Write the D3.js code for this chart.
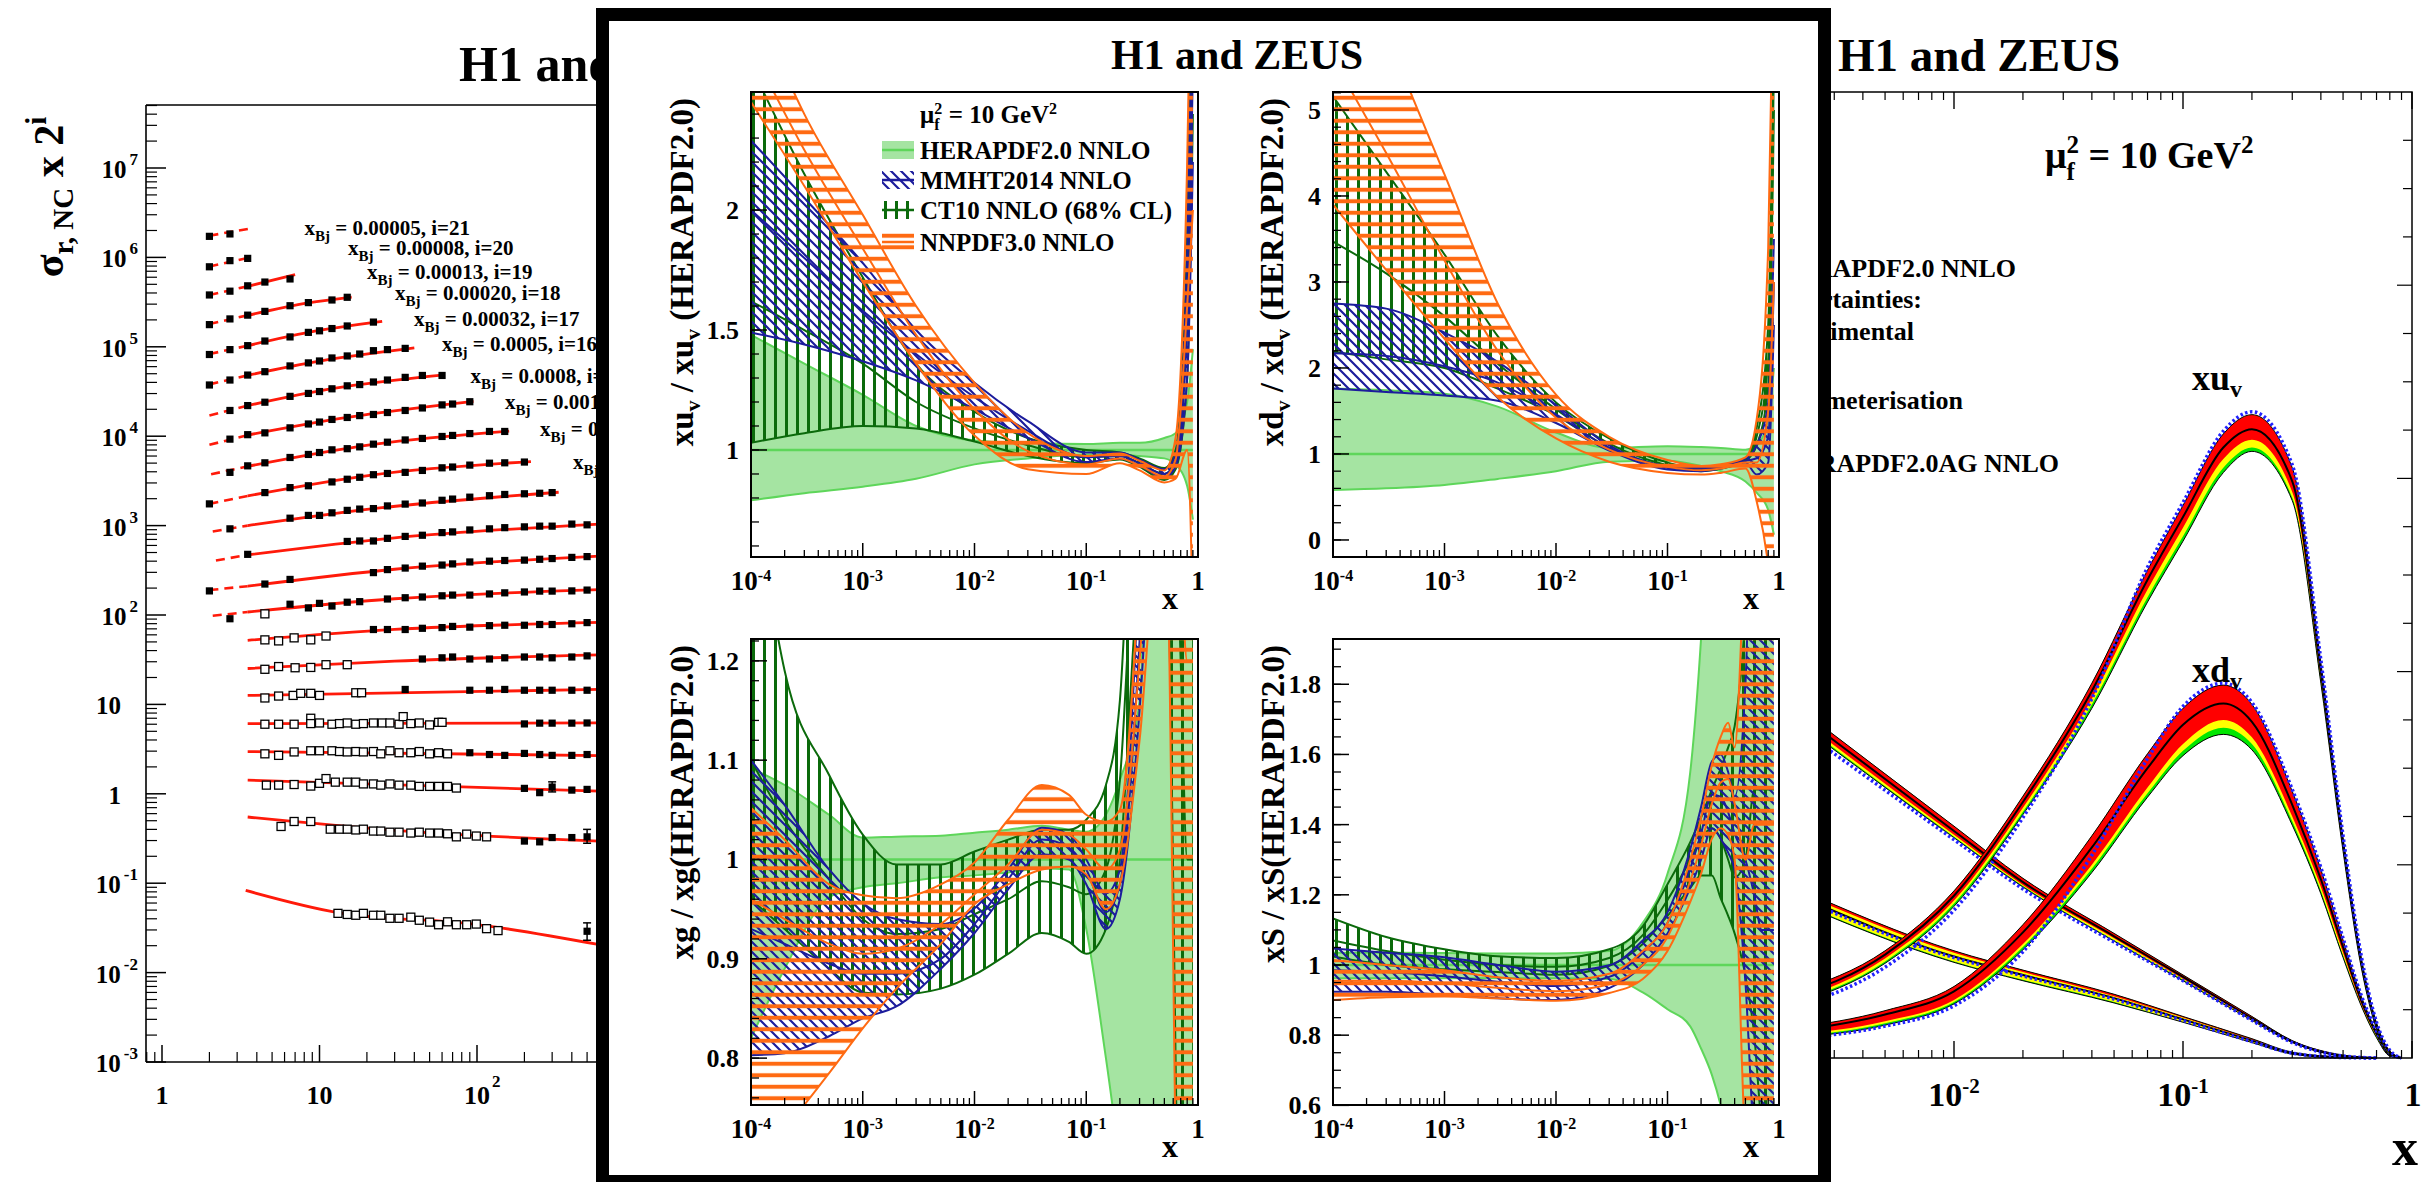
<!DOCTYPE html>
<html>
<head>
<meta charset="utf-8">
<script src="https://cdn.jsdelivr.net/npm/d3@7"></script>
<style>
  body { margin: 0; background: #fff; }
  svg text { font-family: "Liberation Serif", "Times New Roman", serif; font-weight: bold; fill: #000; }
</style>
</head>
<body>
<svg id="chart" width="2434" height="1182"></svg>
<script>
// ---------------- data: left panel (reduced cross sections, sigma x 2^i) ----------------
var binIdx = [21,20,19,18,17,16,15,14,13,12,11,10,9,8,7,6,5,4,3,2,1,0];
var binXbj = ["0.00005","0.00008","0.00013","0.00020","0.00032","0.0005","0.0008","0.0013","0.0020","0.0032",
              "0.005","0.008","0.013","0.020","0.032","0.05","0.08","0.13","0.18","0.25","0.40","0.65"];

// filled squares [Q2, sigma*2^i]
var sigFilled = [
  [[2,1.72e6],[2.7,1.83e6]],
  [[2,7.85e5],[2.7,9.2e5],[3.5,9.75e5]],
  [[2,3.8e5],[2.7,4.19e5],[3.5,4.81e5],[4.5,5.3e5],[6.5,5.74e5]],
  [[2,1.77e5],[2.7,2.05e5],[3.5,2.26e5],[4.5,2.49e5],[6.5,2.88e5],[8.5,3.12e5],[12,3.34e5],[15,3.58e5]],
  [[2,8.2e4],[2.7,9.3e4],[3.5,1.03e5],[4.5,1.16e5],[6.5,1.29e5],[8.5,1.45e5],[10,1.51e5],[12,1.6e5],[15,1.71e5],[22,1.89e5]],
  [[2,3.74e4],[2.7,4.25e4],[3.5,4.83e4],[4.5,5.27e4],[6.5,6.11e4],[8.5,6.61e4],[10,6.94e4],[12,7.5e4],[15,7.9e4],[18,8.3e4],[22,9.05e4],[27,9.3e4],[35,9.6e4]],
  [[2.7,1.94e4],[3.5,2.2e4],[4.5,2.4e4],[6.5,2.79e4],[8.5,3.01e4],[10,3.16e4],[12,3.39e4],[15,3.66e4],[18,3.78e4],[22,4.04e4],[27,4.25e4],[35,4.55e4],[45,4.78e4],[60,4.78e4]],
  [[2.7,9.27e3],[3.5,1.04e4],[4.5,1.09e4],[6.5,1.24e4],[8.5,1.37e4],[10,1.44e4],[12,1.54e4],[15,1.62e4],[18,1.7e4],[22,1.75e4],[27,1.84e4],[35,1.94e4],[45,2.07e4],[60,2.24e4],[70,2.29e4],[90,2.43e4]],
  [[2.7,3.94e3],[3.5,4.66e3],[4.5,5.04e3],[6.5,5.78e3],[8.5,6.25e3],[10,6.57e3],[12,7.04e3],[15,7.25e3],[18,7.6e3],[22,8.15e3],[27,8.57e3],[35,9.08e3],[45,9.44e3],[60,9.93e3],[70,1.02e4],[90,1.07e4],[120,1.13e4],[150,1.13e4]],
  [[2,1.75e3],[4.5,2.34e3],[6.5,2.66e3],[8.5,2.79e3],[12,3.08e3],[15,3.3e3],[18,3.47e3],[22,3.71e3],[27,3.83e3],[35,3.94e3],[45,4.14e3],[60,4.43e3],[70,4.52e3],[90,4.75e3],[120,4.99e3],[150,5.04e3],[200,5.14e3]],
  [[2.7,920],[6.5,1210],[8.5,1300],[10,1300],[12,1390],[15,1480],[18,1530],[22,1550],[27,1660],[35,1740],[45,1790],[60,1920],[70,1980],[90,2080],[120,2160],[150,2230],[200,2270],[250,2300],[300,2340]],
  [[3.5,477],[15,665],[18,673],[22,673],[27,720],[35,757],[45,780],[60,835],[70,850],[90,894],[120,920],[150,948],[200,968],[250,986],[300,986],[400,1040],[500,1020]],
  [[2,186],[4.5,222],[6.5,250],[22,298],[27,322],[35,335],[45,352],[60,362],[70,373],[90,392],[120,400],[150,407],[200,411],[250,420],[300,428],[400,441],[500,450]],
  [[2.7,90.8],[6.5,132],[8.5,120],[10,135],[12,126],[15,139],[18,141],[27,151],[35,156],[45,159],[60,164],[70,167],[90,167],[120,172],[150,177],[200,181],[250,185],[300,185],[400,186],[500,190]],
  [[22,68.8],[27,68.8],[35,68.8],[45,71],[60,72.3],[70,74.5],[90,73.1],[120,76],[150,76.8],[200,76.8],[250,78.3],[300,78.3],[400,79.8],[500,82.2]],
  [[45,32.2],[60,33.2],[70,33.9],[90,32.2],[120,32.2],[150,33.2],[200,33.9],[250,33.9],[300,33.2],[400,33.9],[500,34.9]],
  [[35,14.7],[90,14.4],[120,14.4],[150,14.7],[200,14.4],[250,14.4],[300,14.4],[400,14.4],[500,14.4]],
  [[200,6.05],[250,6.17],[300,6.17],[400,6.17],[500,6.2]],
  [[90,2.88],[120,2.75],[150,2.69],[200,2.83],[250,2.75],[300,2.69],[400,2.69],[500,2.75]],
  [[200,1.15],[250,1.03],[300,1.19],[400,1.10],[500,1.12]],
  [[200,0.296],[250,0.29],[300,0.324],[400,0.324],[500,0.33]],
  [[500,0.029]]
];

// open squares [Q2, sigma*2^i]
var sigOpen = [
  [],[],[],[],[],[],[],[],[],[],[],[],[],
  [[4.5,103]],
  [[4.5,52.7],[5.5,51.3],[6.9,55.5],[8.8,52.7],[11,58.2]],
  [[4.5,24.7],[5.5,26.5],[7,25.7],[8.8,25.9],[11,27.8],[15,27.8]],
  [[4.5,11.8],[5.5,12.4],[6.8,12.6],[7.6,13.3],[8.8,13.3],[10,12.6],[17,13.5],[18.5,13.5]],
  [[4.5,6.0],[5.5,6.0],[6.9,6.0],[8.8,7.0],[8.8,6.1],[10,6.2],[12,6.0],[13.4,6.1],[15,6.2],[17,6.0],[19,6.1],[22,6.2],[25,6.2],[28,6.2],[32,6.0],[34,7.3],[38,6.1],[43,6.2],[50,5.9],[57,6.3],[60,6.3]],
  [[4.5,2.80],[5.5,2.69],[6.9,2.94],[8.8,3.03],[10,3.03],[12,3.03],[13.4,2.97],[15,2.94],[17,2.97],[19,2.94],[22,2.97],[24.5,2.8],[28,3.03],[32,2.88],[38,2.88],[43,2.97],[50,2.8],[57,2.88],[65,2.8]],
  [[4.6,1.25],[5.5,1.25],[6.9,1.27],[8.8,1.22],[10,1.31],[11,1.48],[12.6,1.35],[15,1.35],[17,1.35],[19,1.29],[22,1.29],[24.5,1.25],[28,1.29],[32,1.25],[38,1.25],[43,1.21],[50,1.21],[57,1.21],[65,1.21],[74,1.16]],
  [[5.7,0.431],[6.9,0.49],[8.8,0.49],[11.7,0.402],[13.4,0.402],[15,0.402],[17,0.394],[19,0.402],[22,0.383],[24.5,0.383],[28,0.372],[32,0.372],[38,0.364],[43,0.372],[50,0.364],[57,0.364],[65,0.357],[74,0.33],[86,0.354],[99,0.337],[115,0.33]],
  [[13.1,0.046],[15,0.0447],[17,0.0438],[19,0.046],[22,0.0438],[24.5,0.0438],[28,0.0405],[32,0.0405],[38,0.0417],[43,0.0385],[50,0.0367],[57,0.0343],[65,0.037],[74,0.0343],[86,0.0343],[99,0.0349],[115,0.031],[136,0.0295]]
];

// error bars [row, Q2, low, high]
var sigErr = [[19,300,1.05,1.36],[20,500,0.28,0.40],[21,500,0.023,0.036]];

// fit curves: below Q2min (dashed) and above (solid)
var fitDashed = [
  [[2,1.75e6],[3.6,2.1e6]],
  [[2,7.9e5],[3.6,1.0e6]],
  [[2,3.8e5],[3.5,4.75e5]],
  [[2,1.8e5],[3.5,2.25e5]],
  [[2,8.3e4],[3.5,1.03e5]],
  [[2,3.8e4],[3.5,4.8e4]],
  [[2,1.7e4],[3.5,2.2e4]],
  [[2,8.0e3],[3.5,1.03e4]],
  [[2.05,3.75e3],[3.5,4.6e3]],
  [[2,1.75e3],[3.5,2.15e3]],
  [[2.1,860],[3.5,1000]],
  [[2.2,407],[3.5,470]],
  [[2,190],[3.5,210]],
  [[2.1,98],[3.5,108]],
  [],[],[],[],[],[],[],[]
];
var fitSolid = [
  [],[],
  [[3.5,4.75e5],[7,6.4e5]],
  [[3.5,2.25e5],[8.5,3.1e5],[16,3.6e5]],
  [[3.5,1.03e5],[8.5,1.45e5],[25,1.92e5]],
  [[3.5,4.8e4],[10,6.9e4],[40,9.7e4]],
  [[3.5,2.2e4],[12,3.4e4],[62,4.85e4]],
  [[3.5,1.03e4],[15,1.62e4],[95,2.45e4]],
  [[3.5,4.6e3],[22,8.1e3],[160,1.14e4]],
  [[3.5,2.15e3],[22,3.7e3],[220,5.2e3]],
  [[3.5,1000],[22,1550],[330,2360]],
  [[3.5,470],[30,730],[600,1040]],
  [[3.5,210],[30,325],[600,455]],
  [[3.5,108],[30,152],[600,192]],
  [[3.5,52],[30,69],[600,82.5]],
  [[3.5,25.2],[30,30.5],[600,35.8]],
  [[3.5,12.6],[600,14.7]],
  [[3.5,6.1],[600,6.2]],
  [[3.5,2.97],[600,2.68]],
  [[3.5,1.42],[600,1.07]],
  [[3.5,0.55],[30,0.39],[600,0.295]],
  [[3.4,0.083],[13,0.047],[100,0.0345],[600,0.0205]]
];

// ---------------- data: middle panel (ratios to HERAPDF2.0) ----------------
var gridA = [0.0001,0.0003,0.001,0.003,0.01,0.03,0.1,0.2,0.3,0.5,0.63,0.8,0.9];
var gridG = [0.0001,0.0002,0.0005,0.001,0.002,0.005,0.01,0.02,0.04,0.07,0.1,0.15,0.2,0.3,0.5,0.7,0.8,0.9];
var gridS = [0.0001,0.0003,0.001,0.003,0.01,0.03,0.06,0.1,0.16,0.2,0.25,0.3,0.35,0.4,0.5,0.6,0.7,0.8,0.9];

var uvHeraLo  = [0.79,0.82,0.847,0.88,0.94,0.965,0.98,0.98,0.975,0.965,0.94,0.85,0.71];
var uvHeraHi  = [1.48,1.36,1.23,1.10,1.04,1.03,1.025,1.03,1.03,1.05,1.07,1.2,1.42];
var uvMmhtLo  = [1.49,1.44,1.37,1.29,1.17,1.05,0.95,0.965,0.935,0.885,0.93,1.3,2.2];
var uvMmhtHi  = [2.29,2.05,1.78,1.50,1.28,1.12,0.99,0.99,0.96,0.92,0.98,1.8,3.0];
var uvMmhtCen = [2.0,1.8,1.58,1.40,1.22,1.08,0.97,0.975,0.945,0.9,0.95,1.5,2.6];
var uvCt10Lo  = [1.03,1.07,1.10,1.09,1.035,0.975,0.945,0.96,0.93,0.875,0.92,1.3,2.4];
var uvCt10Hi  = [2.6,2.15,1.72,1.36,1.16,1.05,1.0,0.99,0.965,0.925,1.0,1.9,3.2];
var uvCt10Cen = [1.62,1.5,1.36,1.2,1.09,1.02,0.97,0.975,0.945,0.9,0.96,1.6,2.8];
var uvNnpdfLo = [2.45,2.1,1.7,1.36,1.06,0.92,0.9,0.945,0.915,0.865,0.88,1.0,0.3];
var uvNnpdfHi = [2.9,2.4,1.98,1.6,1.28,1.07,0.975,0.985,0.955,0.915,1.05,2.2,3.5];
var uvNnpdfCen= [2.68,2.25,1.84,1.48,1.17,0.995,0.94,0.965,0.935,0.89,0.96,1.6,2.0];

var dvHeraLo  = [0.58,0.6,0.64,0.71,0.80,0.91,0.92,0.86,0.8,0.68,0.55,0.35,0.06];
var dvHeraHi  = [1.76,1.74,1.70,1.55,1.25,1.07,1.09,1.08,1.07,1.05,1.1,1.4,2.0];
var dvMmhtLo  = [1.76,1.72,1.68,1.62,1.36,1.04,0.82,0.8,0.83,0.9,0.76,0.9,2.5];
var dvMmhtHi  = [2.75,2.69,2.41,2.07,1.57,1.10,0.86,0.84,0.87,0.95,1.1,1.6,3.5];
var dvMmhtCen = [2.17,2.14,2.02,1.83,1.46,1.07,0.84,0.82,0.85,0.92,0.95,1.2,3.0];
var dvCt10Lo  = [2.19,2.1,2.0,1.76,1.45,1.07,0.85,0.8,0.83,0.92,1.1,1.8,5];
var dvCt10Hi  = [5.16,4.28,3.32,2.37,1.6,1.18,0.9,0.83,0.86,0.95,1.3,2.5,6];
var dvCt10Cen = [3.47,3.1,2.6,2.05,1.52,1.12,0.87,0.815,0.845,0.935,1.2,2.1,5.5];
var dvNnpdfLo = [3.9,3.14,2.34,1.66,1.18,0.91,0.78,0.76,0.78,0.83,0.45,-0.3,-1];
var dvNnpdfHi = [7.5,5.9,4.25,2.75,1.69,1.2,0.93,0.86,0.88,0.96,1.4,3.4,7];
var dvNnpdfCen= [5.6,4.5,3.25,2.2,1.42,1.05,0.85,0.81,0.83,0.9,0.9,1.5,3];

var gHeraLo  = [0.82,0.89,0.962,0.972,0.976,0.982,0.984,0.987,0.991,0.99,0.93,0.8,0.7,0.6,0.5,0.5,0.5,0.5];
var gHeraHi  = [1.092,1.075,1.045,1.022,1.023,1.024,1.027,1.03,1.034,1.03,1.028,1.045,1.08,1.16,2.0,2.0,2.0,2.0];
var gMmhtLo  = [0.803,0.805,0.822,0.84,0.852,0.89,0.926,0.97,1.005,1.0,0.975,0.93,0.96,1.15,1.6,1.8,1.8,1.8];
var gMmhtHi  = [1.1,1.055,0.99,0.956,0.94,0.935,0.951,0.99,1.032,1.025,1.0,0.966,0.99,1.3,2.0,2.0,2.0,2.0];
var gMmhtCen = [0.93,0.915,0.895,0.885,0.885,0.9,0.935,0.98,1.02,1.012,0.99,0.947,0.975,1.22,1.8,1.9,1.9,1.9];
var gCt10Lo  = [0.96,0.93,0.89,0.866,0.864,0.87,0.884,0.905,0.926,0.917,0.905,0.93,1.0,1.3,1.4,0.5,0.3,0.3];
var gCt10Hi  = [1.4,1.19,1.085,1.025,0.995,0.995,1.008,1.02,1.03,1.03,1.04,1.075,1.16,1.6,2,2,2,2];
var gCt10Cen = [1.1,1.04,0.98,0.94,0.925,0.93,0.945,0.96,0.978,0.972,0.965,0.99,1.08,1.45,1.7,1.2,1.0,1.0];
var gNnpdfLo = [0.7,0.73,0.785,0.83,0.87,0.915,0.955,0.975,0.99,0.993,0.985,0.95,0.975,1.12,1.4,0.4,0.3,0.3];
var gNnpdfHi = [1.052,1.02,0.975,0.964,0.961,0.975,0.997,1.04,1.075,1.065,1.045,1.038,1.05,1.3,2,2,2,2];
var gNnpdfCen= [0.96,0.94,0.915,0.905,0.91,0.935,0.965,0.995,1.03,1.025,1.01,0.99,1.01,1.2,1.6,1.3,1.2,1.2];

var sHeraLo  = [0.962,0.962,0.962,0.962,0.962,0.96,0.922,0.874,0.825,0.762,0.687,0.6,0.5,0.4,0.4,0.4,0.4,0.4,0.4];
var sHeraHi  = [1.035,1.035,1.034,1.033,1.033,1.04,1.12,1.26,1.55,1.93,2.5,2.5,2.5,2.5,2.5,2.5,2.5,2.5,2.5];
var sMmhtLo  = [0.924,0.924,0.915,0.905,0.9,0.934,1.0,1.09,1.22,1.3,1.39,1.36,1.32,1.27,0.95,0.5,0.4,0.4,0.4];
var sMmhtHi  = [1.047,1.035,1.022,1.0,0.981,0.999,1.07,1.15,1.33,1.45,1.58,1.6,1.55,1.48,1.8,2.5,2.5,2.5,2.5];
var sMmhtCen = [0.985,0.98,0.968,0.952,0.94,0.966,1.035,1.12,1.275,1.375,1.485,1.48,1.435,1.375,1.3,1.2,1.1,1.1,1.1];
var sCt10Lo  = [1.024,1.0,0.988,0.98,0.972,0.998,1.06,1.14,1.22,1.255,1.255,1.19,1.14,1.09,0.97,0.8,0.55,0.5,0.5];
var sCt10Hi  = [1.133,1.08,1.045,1.025,1.02,1.045,1.11,1.23,1.35,1.42,1.5,1.56,1.62,1.68,2.0,2.5,2.5,2.5,2.5];
var sCt10Cen = [1.07,1.04,1.015,1.0,0.995,1.02,1.085,1.185,1.3,1.36,1.39,1.36,1.3,1.25,1.3,1.5,1.5,1.5,1.5];
var sNnpdfLo = [0.9,0.908,0.91,0.905,0.898,0.92,0.96,1.04,1.18,1.26,1.36,1.39,1.37,1.3,0.5,0.4,0.4,0.4,0.4];
var sNnpdfHi = [1.014,1.0,0.985,0.965,0.955,0.975,1.04,1.12,1.3,1.42,1.57,1.65,1.69,1.62,2.2,2.5,2.5,2.5,2.5];
var sNnpdfCen= [0.955,0.955,0.948,0.935,0.925,0.945,1.0,1.08,1.24,1.34,1.46,1.52,1.53,1.46,1.3,1.4,1.4,1.4,1.4];

// ---------------- data: right panel (HERAPDF2.0 NNLO PDFs) ----------------
var pdfX  = [0.002,0.005,0.01,0.02,0.04,0.07,0.1,0.15,0.2,0.3,0.4,0.5,0.6,0.7,0.8,0.9];
var xuvCen = [0.063,0.107,0.168,0.265,0.38,0.495,0.56,0.632,0.651,0.597,0.40,0.222,0.10,0.034,0.006,0];
var xuvTop = [0.068,0.111,0.173,0.271,0.388,0.505,0.572,0.646,0.666,0.611,0.409,0.228,0.104,0.036,0.007,0];
var xuvRLo = [0.059,0.103,0.163,0.259,0.372,0.485,0.549,0.62,0.64,0.586,0.394,0.218,0.097,0.032,0.005,0];
var xuvYLo = [0.057,0.1,0.16,0.255,0.366,0.477,0.54,0.611,0.632,0.58,0.39,0.215,0.095,0.031,0.004,0];
var xuvGLo = [0.055,0.098,0.157,0.252,0.362,0.472,0.535,0.606,0.628,0.577,0.388,0.214,0.094,0.03,0.004,0];
var xuvAg  = [0.052,0.094,0.153,0.249,0.372,0.508,0.575,0.649,0.669,0.614,0.412,0.23,0.106,0.037,0.008,0];

var xdvCen = [0.028,0.045,0.069,0.13,0.218,0.30,0.345,0.367,0.348,0.262,0.185,0.115,0.06,0.025,0.003,0];
var xdvTop = [0.031,0.049,0.074,0.138,0.23,0.315,0.362,0.386,0.366,0.276,0.195,0.122,0.064,0.027,0.004,0];
var xdvRLo = [0.024,0.038,0.06,0.118,0.2,0.28,0.325,0.35,0.332,0.25,0.177,0.109,0.056,0.023,0.002,0];
var xdvYLo = [0.022,0.036,0.058,0.115,0.196,0.274,0.318,0.342,0.325,0.245,0.173,0.106,0.055,0.022,0.002,0];
var xdvGLo = [0.021,0.034,0.056,0.112,0.192,0.27,0.313,0.335,0.319,0.241,0.17,0.104,0.054,0.021,0.002,0];
var xdvAg  = [0.02,0.033,0.054,0.11,0.21,0.31,0.364,0.388,0.368,0.278,0.197,0.124,0.065,0.028,0.005,0];

var pdfX9 = [0.002,0.01,0.02,0.05,0.1,0.2,0.3,0.5,0.7];
var xgCen = [0.36,0.235,0.182,0.126,0.084,0.041,0.017,0.002,0];
var xgTop = [0.366,0.24,0.186,0.129,0.086,0.043,0.018,0.003,0];
var xgRLo = [0.355,0.231,0.179,0.124,0.082,0.04,0.016,0.002,0];
var xgYLo = [0.352,0.229,0.178,0.122,0.081,0.039,0.016,0.002,0];
var xgGLo = [0.35,0.228,0.177,0.121,0.08,0.039,0.016,0.002,0];
var xgAg  = [0.345,0.226,0.175,0.12,0.08,0.039,0.016,0.002,0];

var xsCen = [0.17,0.105,0.086,0.062,0.04,0.018,0.005,0.0005,0];
var xsTop = [0.177,0.111,0.091,0.066,0.043,0.02,0.006,0.001,0];
var xsRLo = [0.174,0.109,0.089,0.064,0.042,0.019,0.006,0.001,0];
var xsYLo = [0.163,0.1,0.081,0.058,0.037,0.016,0.004,0,0];
var xsGLo = [0.162,0.099,0.08,0.057,0.037,0.016,0.004,0,0];
var xsAg  = [0.168,0.104,0.085,0.061,0.039,0.017,0.005,0.0005,0];

var legendLines = ["HERAPDF2.0 NNLO","uncertainties:","experimental","parameterisation","HERAPDF2.0AG NNLO"];

// ---------------- colours ----------------
var redFit = "#ff1a0a";
var heraFill = "#a5e4a2", heraLine = "#5ed65a";
var mmhtC = "#1c1c9c", ct10C = "#0b6a0b", nnpdfC = "#ff6a12";

var svg = d3.select("#chart");
svg.append("rect").attr("width", 2434).attr("height", 1182).attr("fill", "#fff");
var defs = svg.append("defs");

// hatch patterns
var pm = defs.append("pattern").attr("id", "hMmht").attr("patternUnits", "userSpaceOnUse").attr("width", 10).attr("height", 10);
pm.append("path").attr("d", "M0,0 L10,10 M-1,9 L1,11 M9,-1 L11,1").attr("stroke", mmhtC).attr("stroke-width", 2.2);
var pc = defs.append("pattern").attr("id", "hCt10").attr("patternUnits", "userSpaceOnUse").attr("width", 11).attr("height", 10);
pc.append("line").attr("x1", 5.5).attr("x2", 5.5).attr("y1", 0).attr("y2", 10).attr("stroke", ct10C).attr("stroke-width", 3);
var pn = defs.append("pattern").attr("id", "hNnpdf").attr("patternUnits", "userSpaceOnUse").attr("width", 10).attr("height", 11.5);
pn.append("line").attr("x1", 0).attr("x2", 10).attr("y1", 5.75).attr("y2", 5.75).attr("stroke", nnpdfC).attr("stroke-width", 4);

function line(g, x1, y1, x2, y2, w, c) {
  return g.append("line").attr("x1", x1).attr("y1", y1).attr("x2", x2).attr("y2", y2)
    .attr("stroke", c || "#000").attr("stroke-width", w || 1.5);
}

// =================== LEFT PANEL ===================
var L = svg.append("g");
var xQ = d3.scaleLog().domain([1, 1000]).range([162, 634.5]);
var yS = d3.scaleLog().domain([1e-3, 1e7]).range([1062, 168]);
var lineQ = d3.line().x(function(d){ return xQ(d[0]); }).y(function(d){ return yS(d[1]); }).curve(d3.curveMonotoneX);

L.append("text").attr("x", 459).attr("y", 81).attr("font-size", 50).text("H1 and ZEUS");

fitDashed.forEach(function(seg){
  if (seg.length) L.append("path").attr("d", lineQ(seg)).attr("fill", "none").attr("stroke", redFit)
    .attr("stroke-width", 2.6).attr("stroke-dasharray", "9,6");
});
fitSolid.forEach(function(seg){
  if (seg.length) L.append("path").attr("d", lineQ(seg)).attr("fill", "none").attr("stroke", redFit).attr("stroke-width", 2.8);
});
sigErr.forEach(function(e){
  line(L, xQ(e[1]), yS(e[2]), xQ(e[1]), yS(e[3]), 1.5);
  line(L, xQ(e[1]) - 4, yS(e[2]), xQ(e[1]) + 4, yS(e[2]), 1.5);
  line(L, xQ(e[1]) - 4, yS(e[3]), xQ(e[1]) + 4, yS(e[3]), 1.5);
});
sigOpen.forEach(function(row){
  L.selectAll(null).data(row).enter().append("rect")
    .attr("x", function(d){ return xQ(d[0]) - 4; }).attr("y", function(d){ return yS(d[1]) - 4; })
    .attr("width", 8).attr("height", 8).attr("fill", "#fff").attr("stroke", "#000").attr("stroke-width", 1.3);
});
sigFilled.forEach(function(row){
  L.selectAll(null).data(row).enter().append("rect")
    .attr("x", function(d){ return xQ(d[0]) - 3.6; }).attr("y", function(d){ return yS(d[1]) - 3.6; })
    .attr("width", 7.2).attr("height", 7.2).attr("fill", "#000");
});

// bin labels (only the ones that stick out from under the middle panel)
var binLabelPos = [[304.5,235],[348,255],[367,279],[395,300],[414,326],[442,351],[470.5,383],[505,409],[540,436],[573,469]];
binLabelPos.forEach(function(p, k){
  var t = L.append("text").attr("x", p[0]).attr("y", p[1]).attr("font-size", 21);
  t.append("tspan").text("x");
  t.append("tspan").attr("font-size", 15).attr("dy", 6).text("Bj");
  t.append("tspan").attr("dy", -6).text(" = " + binXbj[k] + ", i=" + binIdx[k]);
});

// axes frame
line(L, 146, 105, 146, 1062, 1.6);
line(L, 146, 105, 700, 105, 1.6);
line(L, 146, 1062, 700, 1062, 1.6);
for (var k = -3; k <= 7; k++) {
  line(L, 146, yS(Math.pow(10, k)), 166, yS(Math.pow(10, k)), 1.5);
  for (var m = 2; m <= 9; m++) {
    var v = m * Math.pow(10, k);
    if (yS(v) > 105) line(L, 146, yS(v), 157, yS(v), 1.2);
  }
  var lab = L.append("text").attr("font-size", 25).attr("y", yS(Math.pow(10, k)) + 10);
  if (k === 0 || k === 1) {
    lab.attr("x", 121).attr("text-anchor", "end").text(k === 0 ? "1" : "10");
  } else {
    lab.attr("x", 138).attr("text-anchor", "end");
    lab.append("tspan").text("10");
    lab.append("tspan").attr("font-size", 17).attr("dy", -13).attr("dx", 3).text(k);
  }
}
[0.8, 0.9].forEach(function(v){ line(L, xQ(v), 1062, xQ(v), 1052, 1.2); });
for (var k = 0; k <= 2; k++) {
  line(L, xQ(Math.pow(10, k)), 1062, xQ(Math.pow(10, k)), 1045, 1.5);
  for (var m = 2; m <= 9; m++) line(L, xQ(m * Math.pow(10, k)), 1062, xQ(m * Math.pow(10, k)), 1052, 1.2);
}
L.append("text").attr("x", xQ(1)).attr("y", 1104).attr("font-size", 26).attr("text-anchor", "middle").text("1");
L.append("text").attr("x", xQ(10)).attr("y", 1104).attr("font-size", 26).attr("text-anchor", "middle").text("10");
L.append("text").attr("x", xQ(100)).attr("y", 1104).attr("font-size", 26).attr("text-anchor", "middle").text("10");
L.append("text").attr("x", xQ(100) + 15).attr("y", 1087).attr("font-size", 17).text("2");

var yt = L.append("text").attr("transform", "translate(63,197) rotate(-90)").attr("text-anchor", "middle").attr("font-size", 42);
yt.append("tspan").text("σ");
yt.append("tspan").attr("font-size", 29).attr("dy", 10).text("r, NC");
yt.append("tspan").attr("dy", -10).text(" x 2");
yt.append("tspan").attr("font-size", 29).attr("dy", -17).text("i");

// =================== RIGHT PANEL ===================
var R = svg.append("g");
var xR = d3.scaleLog().domain([1e-4, 1]).range([1496, 2412]);
var yR = d3.scaleLinear().domain([0, 1]).range([1058, 92]);

R.append("text").attr("x", 1838).attr("y", 71).attr("font-size", 47).text("H1 and ZEUS");

function pdfBand(xs, top, rLo, yLo, gLo, cen, ag) {
  var rows = xs.map(function(x, i){ return {x: x, top: top[i], r: rLo[i], y: yLo[i], g: gLo[i], c: cen[i], a: ag[i]}; });
  function ar(lo) {
    return d3.area().x(function(d){ return xR(d.x); }).y0(function(d){ return yR(d[lo]); })
      .y1(function(d){ return yR(d.top); }).curve(d3.curveMonotoneX)(rows);
  }
  function ln(key) {
    return d3.line().x(function(d){ return xR(d.x); }).y(function(d){ return yR(d[key]); }).curve(d3.curveMonotoneX)(rows);
  }
  R.append("path").attr("d", ar("g")).attr("fill", "#00e600");
  R.append("path").attr("d", ar("y")).attr("fill", "#ffff00");
  R.append("path").attr("d", ar("r")).attr("fill", "#ff0000");
  R.append("path").attr("d", ln("top")).attr("fill", "none").attr("stroke", "#000").attr("stroke-width", 1);
  R.append("path").attr("d", ln("g")).attr("fill", "none").attr("stroke", "#000").attr("stroke-width", 1);
  R.append("path").attr("d", ln("c")).attr("fill", "none").attr("stroke", "#000").attr("stroke-width", 2);
  R.append("path").attr("d", ln("a")).attr("fill", "none").attr("stroke", "#2222ff").attr("stroke-width", 3.5)
    .attr("stroke-dasharray", "2.5,2.5");
}
pdfBand(pdfX9, xsTop, xsRLo, xsYLo, xsGLo, xsCen, xsAg);
pdfBand(pdfX9, xgTop, xgRLo, xgYLo, xgGLo, xgCen, xgAg);
pdfBand(pdfX, xdvTop, xdvRLo, xdvYLo, xdvGLo, xdvCen, xdvAg);
pdfBand(pdfX, xuvTop, xuvRLo, xuvYLo, xuvGLo, xuvCen, xuvAg);

R.append("rect").attr("x", 1496).attr("y", 92).attr("width", 916).attr("height", 966)
  .attr("fill", "none").attr("stroke", "#000").attr("stroke-width", 1.5);
for (var k = -4; k <= 0; k++) {
  var xv = xR(Math.pow(10, k));
  line(R, xv, 1058, xv, 1041, 1.4); line(R, xv, 92, xv, 109, 1.4);
  if (k < 0) for (var m = 2; m <= 9; m++) {
    var xm = xR(m * Math.pow(10, k));
    line(R, xm, 1058, xm, 1050, 1.2); line(R, xm, 92, xm, 100, 1.2);
  }
}
for (var k = 1; k < 20; k++) {
  var yv = yR(k * 0.05);
  line(R, 2412, yv, 2412 - (k % 4 === 0 ? 15 : 9), yv, 1.2);
}
[-2, -1].forEach(function(e){
  var t = R.append("text").attr("x", xR(Math.pow(10, e))).attr("y", 1106).attr("font-size", 34).attr("text-anchor", "middle");
  t.append("tspan").text("10");
  t.append("tspan").attr("font-size", 21).attr("dy", -13).text(e);
});
R.append("text").attr("x", 2413).attr("y", 1106).attr("font-size", 34).attr("text-anchor", "middle").text("1");
R.append("text").attr("x", 2405).attr("y", 1165).attr("font-size", 52).attr("text-anchor", "middle").text("x");

var mu = R.append("text").attr("x", 2045).attr("y", 168).attr("font-size", 38);
mu.append("tspan").text("μ");
mu.append("tspan").attr("font-size", 25).attr("dy", -15).text("2");
mu.append("tspan").attr("font-size", 25).attr("dx", -12.5).attr("dy", 27).text("f");
mu.append("tspan").attr("dy", -12).attr("dx", 4).text(" = 10 GeV");
mu.append("tspan").attr("font-size", 25).attr("dy", -15).text("2");

var legEnd = [[2016,277],[1922,308],[1914,340],[1963,409],[2059,472]];
legendLines.forEach(function(s, i){
  R.append("text").attr("x", legEnd[i][0]).attr("y", legEnd[i][1]).attr("font-size", 26).attr("text-anchor", "end").text(s);
});
var lu = R.append("text").attr("x", 2192).attr("y", 390).attr("font-size", 36);
lu.append("tspan").text("xu"); lu.append("tspan").attr("font-size", 24).attr("dy", 7).text("v");
var ld = R.append("text").attr("x", 2192).attr("y", 682).attr("font-size", 36);
ld.append("tspan").text("xd"); ld.append("tspan").attr("font-size", 24).attr("dy", 7).text("v");

// =================== MIDDLE PANEL ===================
var M = svg.append("g");
M.append("rect").attr("x", 602.5).attr("y", 14.5).attr("width", 1222).attr("height", 1167)
  .attr("fill", "#fff").attr("stroke", "#000").attr("stroke-width", 13);
M.append("text").attr("x", 1237).attr("y", 69).attr("font-size", 42).attr("text-anchor", "middle").text("H1 and ZEUS");

var panels = [
  {id: "uv", x0: 751, x1: 1198, y0: 92, y1: 557, dom: [0.554, 2.492], majors: [1, 1.5, 2], minor: 0.1, tx: 693,
   title: [["xu",0],["v",1],[" / xu",0],["v",1],[" (HERAPDF2.0)",0]], grid: gridA,
   hera: [uvHeraLo, uvHeraHi], sets: [[uvCt10Lo, uvCt10Hi, uvCt10Cen, "hCt10", ct10C], [uvMmhtLo, uvMmhtHi, uvMmhtCen, "hMmht", mmhtC], [uvNnpdfLo, uvNnpdfHi, uvNnpdfCen, "hNnpdf", nnpdfC]]},
  {id: "dv", x0: 1333, x1: 1779, y0: 92, y1: 557, dom: [-0.198, 5.209], majors: [0, 1, 2, 3, 4, 5], minor: 0.2, tx: 1283,
   title: [["xd",0],["v",1],[" / xd",0],["v",1],[" (HERAPDF2.0)",0]], grid: gridA,
   hera: [dvHeraLo, dvHeraHi], sets: [[dvCt10Lo, dvCt10Hi, dvCt10Cen, "hCt10", ct10C], [dvMmhtLo, dvMmhtHi, dvMmhtCen, "hMmht", mmhtC], [dvNnpdfLo, dvNnpdfHi, dvNnpdfCen, "hNnpdf", nnpdfC]]},
  {id: "g", x0: 751, x1: 1198, y0: 639, y1: 1105, dom: [0.7528, 1.222], majors: [0.8, 0.9, 1, 1.1, 1.2], minor: 0.02, tx: 693,
   title: [["xg / xg(HERAPDF2.0)",0]], grid: gridG,
   hera: [gHeraLo, gHeraHi], sets: [[gCt10Lo, gCt10Hi, gCt10Cen, "hCt10", ct10C], [gMmhtLo, gMmhtHi, gMmhtCen, "hMmht", mmhtC], [gNnpdfLo, gNnpdfHi, gNnpdfCen, "hNnpdf", nnpdfC]]},
  {id: "s", x0: 1333, x1: 1779, y0: 639, y1: 1105, dom: [0.601, 1.929], majors: [0.6, 0.8, 1, 1.2, 1.4, 1.6, 1.8], minor: 0.05, tx: 1284,
   title: [["xS / xS(HERAPDF2.0)",0]], grid: gridS,
   hera: [sHeraLo, sHeraHi], sets: [[sCt10Lo, sCt10Hi, sCt10Cen, "hCt10", ct10C], [sMmhtLo, sMmhtHi, sMmhtCen, "hMmht", mmhtC], [sNnpdfLo, sNnpdfHi, sNnpdfCen, "hNnpdf", nnpdfC]]}
];

panels.forEach(function(p){
  var g = M.append("g");
  var x = d3.scaleLog().domain([1e-4, 1]).range([p.x0, p.x1]);
  var y = d3.scaleLinear().domain(p.dom).range([p.y1, p.y0]);
  defs.append("clipPath").attr("id", "clip-" + p.id).append("rect")
    .attr("x", p.x0).attr("y", p.y0).attr("width", p.x1 - p.x0).attr("height", p.y1 - p.y0);
  var plot = g.append("g").attr("clip-path", "url(#clip-" + p.id + ")");

  function rows(lo, hi, cen) {
    return p.grid.map(function(xv, i){ return {x: xv, lo: lo[i], hi: hi[i], c: cen ? cen[i] : null}; });
  }
  var area = d3.area().x(function(d){ return x(d.x); }).y0(function(d){ return y(d.lo); })
    .y1(function(d){ return y(d.hi); }).curve(d3.curveMonotoneX);
  function ln(key) {
    return d3.line().x(function(d){ return x(d.x); }).y(function(d){ return y(d[key]); }).curve(d3.curveMonotoneX);
  }

  var hr = rows(p.hera[0], p.hera[1]);
  plot.append("path").attr("d", area(hr)).attr("fill", heraFill);
  plot.append("path").attr("d", ln("lo")(hr)).attr("fill", "none").attr("stroke", heraLine).attr("stroke-width", 2);
  plot.append("path").attr("d", ln("hi")(hr)).attr("fill", "none").attr("stroke", heraLine).attr("stroke-width", 2);
  line(plot, x(1e-4), y(1), x(0.9), y(1), 2.5, heraLine);

  p.sets.forEach(function(s){
    var r = rows(s[0], s[1], s[2]);
    plot.append("path").attr("d", area(r)).attr("fill", "url(#" + s[3] + ")");
    ["lo", "hi", "c"].forEach(function(k){
      plot.append("path").attr("d", ln(k)(r)).attr("fill", "none").attr("stroke", s[4]).attr("stroke-width", 2);
    });
  });

  g.append("rect").attr("x", p.x0).attr("y", p.y0).attr("width", p.x1 - p.x0).attr("height", p.y1 - p.y0)
    .attr("fill", "none").attr("stroke", "#000").attr("stroke-width", 2);

  // x ticks
  for (var e = -4; e <= 0; e++) {
    line(g, x(Math.pow(10, e)), p.y1, x(Math.pow(10, e)), p.y1 - 14, 1.5);
    if (e < 0) for (var m = 2; m <= 9; m++) line(g, x(m * Math.pow(10, e)), p.y1, x(m * Math.pow(10, e)), p.y1 - 7, 1.3);
    var t = g.append("text").attr("x", x(Math.pow(10, e))).attr("y", p.y1 + 33).attr("font-size", 27).attr("text-anchor", "middle");
    if (e === 0) t.text("1");
    else { t.append("tspan").text("10"); t.append("tspan").attr("font-size", 16).attr("dy", -9).text(e); }
  }
  g.append("text").attr("x", p.x1 - 28).attr("y", p.y1 + 52).attr("font-size", 32).attr("text-anchor", "middle").text("x");

  // y ticks
  var k0 = Math.ceil(p.dom[0] / p.minor - 1e-6), k1 = Math.floor(p.dom[1] / p.minor + 1e-6);
  for (var k = k0; k <= k1; k++) line(g, p.x0, y(k * p.minor), p.x0 + 8, y(k * p.minor), 1.3);
  p.majors.forEach(function(v){
    line(g, p.x0, y(v), p.x0 + 16, y(v), 1.5);
    g.append("text").attr("x", p.x0 - 12).attr("y", y(v) + 9).attr("font-size", 26).attr("text-anchor", "end")
      .text(String(v));
  });

  var tt = g.append("text").attr("transform", "translate(" + p.tx + "," + (p.y0 + 6) + ") rotate(-90)")
    .attr("text-anchor", "end").attr("font-size", 33);
  var low = false;
  p.title.forEach(function(part){
    var ts = tt.append("tspan").text(part[0]);
    if (part[1] && !low) { ts.attr("font-size", 22).attr("dy", 7); low = true; }
    else if (!part[1] && low) { ts.attr("dy", -7); low = false; }
  });
});

// legend (upper-left ratio panel)
var mu2 = M.append("text").attr("x", 920).attr("y", 123).attr("font-size", 25);
mu2.append("tspan").text("μ");
mu2.append("tspan").attr("font-size", 16).attr("dy", -9).text("2");
mu2.append("tspan").attr("font-size", 16).attr("dx", -8).attr("dy", 16).text("f");
mu2.append("tspan").attr("dy", -7).attr("dx", 3).text(" = 10 GeV");
mu2.append("tspan").attr("font-size", 16).attr("dy", -9).text("2");

var legNames = ["HERAPDF2.0 NNLO", "MMHT2014 NNLO", "CT10 NNLO (68% CL)", "NNPDF3.0 NNLO"];
var legFills = [heraFill, "url(#hMmht)", "url(#hCt10)", "url(#hNnpdf)"];
var legLines = [heraLine, mmhtC, ct10C, nnpdfC];
var legY = [150, 180, 210, 242];
legNames.forEach(function(s, i){
  M.append("rect").attr("x", 882).attr("y", legY[i] - 9).attr("width", 32).attr("height", 18).attr("fill", legFills[i]);
  line(M, 882, legY[i], 914, legY[i], 2.5, legLines[i]);
  M.append("text").attr("x", 920).attr("y", legY[i] + 9).attr("font-size", 25).text(s);
});
</script>
</body>
</html>
